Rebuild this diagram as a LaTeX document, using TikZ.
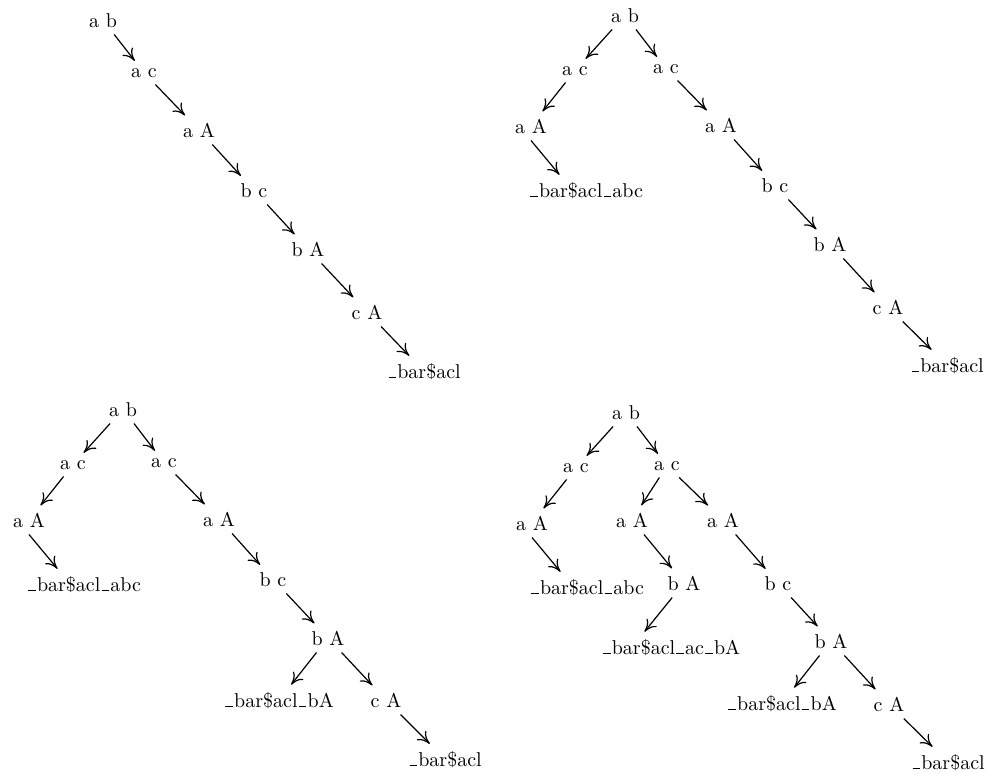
\documentclass[tikz,border=0pt]{standalone}
\usetikzlibrary{arrows.meta}
\newcommand{\usc}{\leavevmode\kern.06em\vbox{\hrule width.38em}\kern.06em}

\begin{document}
\begin{tikzpicture}[x=0.5pt, y={(0pt,-0.5pt)}, semithick,
    >={To[length=6pt, width=6.5pt]},
    st/.style={anchor=base}]
  \useasboundingbox (0,0) rectangle (986,773);
  % first tree: a single chain
  \node[st] (t1ab) at (103,27) {a b};
  \node[st] (t1ac) at (144,77) {a c};
  \node[st] (t1aA) at (199,137) {a A};
  \node[st] (t1bc) at (254,197) {b c};
  \node[st] (t1bA) at (308,256) {b A};
  \node[st] (t1cA) at (367,319) {c A};
  \node[st] (t1end) at (424,378) {\usc bar\$acl};
  \draw[->] (t1ab) -- (t1ac);
  \draw[->] (t1ac) -- (t1aA);
  \draw[->] (t1aA) -- (t1bc);
  \draw[->] (t1bc) -- (t1bA);
  \draw[->] (t1bA) -- (t1cA);
  \draw[->] (t1cA) -- (t1end);

  % second tree
  \node[st] (t2ab) at (625,22) {a b};
  \node[st] (t2acl) at (575,75) {a c};
  \node[st] (t2acr) at (666,73) {a c};
  \node[st] (t2aAl) at (531,133) {a A};
  \node[st] (t2abc) at (586,197) {\usc bar\$acl\usc abc};
  \node[st] (t2aAr) at (721,132) {a A};
  \node[st] (t2bc) at (775,192) {b c};
  \node[st] (t2bA) at (830,251) {b A};
  \node[st] (t2cA) at (888,314) {c A};
  \node[st] (t2end) at (947,372) {\usc bar\$acl};
  \draw[->] (t2ab) -- (t2acl);
  \draw[->] (t2ab) -- (t2acr);
  \draw[->] (t2acl) -- (t2aAl);
  \draw[->] (t2aAl.south) -- (t2abc.150);
  \draw[->] (t2acr) -- (t2aAr);
  \draw[->] (t2aAr) -- (t2bc);
  \draw[->] (t2bc) -- (t2bA);
  \draw[->] (t2bA) -- (t2cA);
  \draw[->] (t2cA) -- (t2end);

  % third tree
  \node[st] (t3ab) at (123,416) {a b};
  \node[st] (t3acl) at (73,469) {a c};
  \node[st] (t3acr) at (164,467) {a c};
  \node[st] (t3aAl) at (29,527) {a A};
  \node[st] (t3abc) at (84,591) {\usc bar\$acl\usc abc};
  \node[st] (t3aAr) at (219,526) {a A};
  \node[st] (t3bc) at (273,586) {b c};
  \node[st] (t3bA) at (328,645) {b A};
  \node[st] (t3bAend) at (279,707) {\usc bar\$acl\usc bA};
  \node[st] (t3cA) at (386,707) {c A};
  \node[st] (t3end) at (445,766) {\usc bar\$acl};
  \draw[->] (t3ab) -- (t3acl);
  \draw[->] (t3ab) -- (t3acr);
  \draw[->] (t3acl) -- (t3aAl);
  \draw[->] (t3aAl.south) -- (t3abc.150);
  \draw[->] (t3acr) -- (t3aAr);
  \draw[->] (t3aAr) -- (t3bc);
  \draw[->] (t3bc) -- (t3bA);
  \draw[->] (t3bA) -- (t3bAend);
  \draw[->] (t3bA) -- (t3cA);
  \draw[->] (t3cA) -- (t3end);

  % fourth tree
  \node[st] (t4ab) at (626,419) {a b};
  \node[st] (t4acl) at (576,472) {a c};
  \node[st] (t4acr) at (667,470) {a c};
  \node[st] (t4aA1) at (532,530) {a A};
  \node[st] (t4abc) at (587,594) {\usc bar\$acl\usc abc};
  \node[st] (t4aA2) at (632,527) {a A};
  \node[st] (t4bA2) at (684,590) {b A};
  \node[st] (t4acbA) at (671,654) {\usc bar\$acl\usc ac\usc bA};
  \node[st] (t4aA3) at (723,527) {a A};
  \node[st] (t4bc) at (778,590) {b c};
  \node[st] (t4bA) at (831,648) {b A};
  \node[st] (t4bAend) at (782,710) {\usc bar\$acl\usc bA};
  \node[st] (t4cA) at (889,711) {c A};
  \node[st] (t4end) at (948,769) {\usc bar\$acl};
  \draw[->] (t4ab) -- (t4acl);
  \draw[->] (t4ab) -- (t4acr);
  \draw[->] (t4acl) -- (t4aA1);
  \draw[->] (t4aA1.south) -- (t4abc.150);
  \draw[->] (t4acr) -- (t4aA2);
  \draw[->] (t4aA2) -- (t4bA2);
  \draw[->] (t4bA2) -- (t4acbA.150);
  \draw[->] (t4acr) -- (t4aA3);
  \draw[->] (t4aA3) -- (t4bc);
  \draw[->] (t4bc) -- (t4bA);
  \draw[->] (t4bA) -- (t4bAend);
  \draw[->] (t4bA) -- (t4cA);
  \draw[->] (t4cA) -- (t4end);
\end{tikzpicture}
\end{document}
